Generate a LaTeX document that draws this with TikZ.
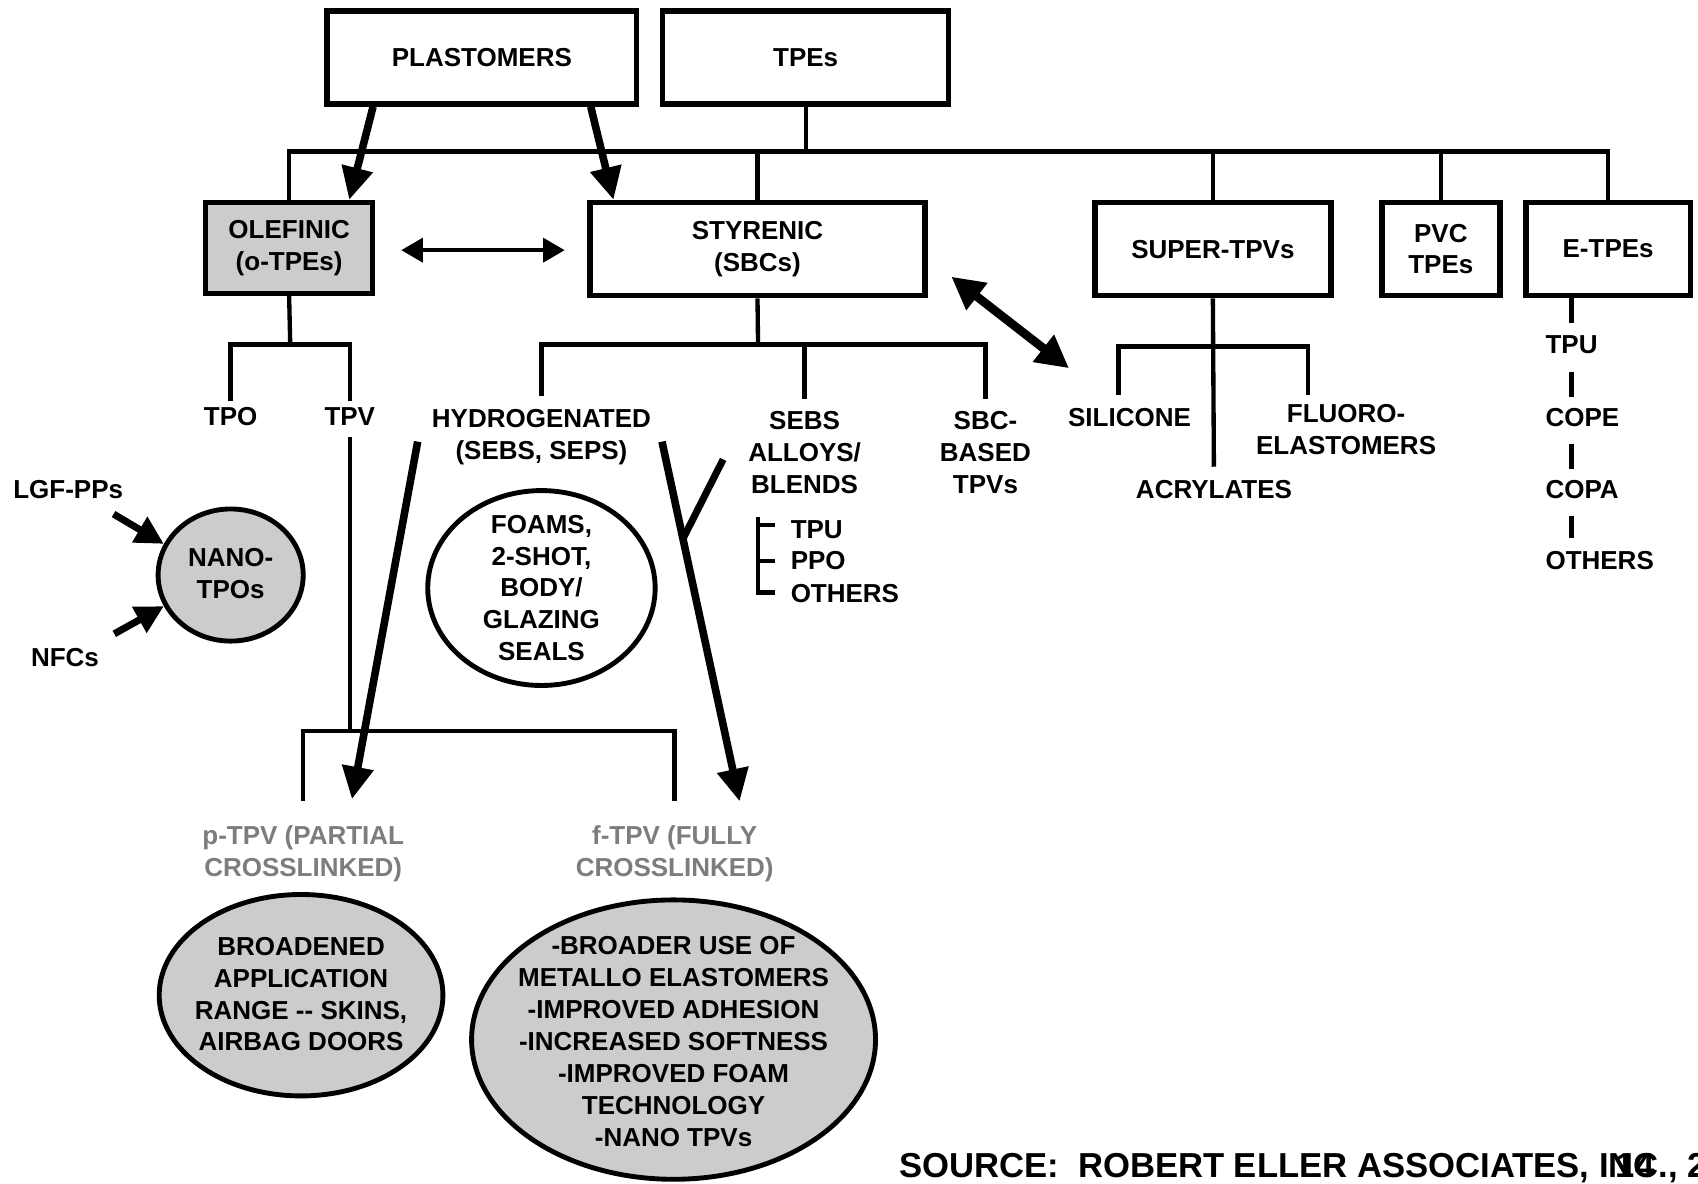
\documentclass[tikz,border=0pt]{standalone}
\usepackage{fontspec}
\setmainfont{Liberation Sans}
\usetikzlibrary{arrows.meta,shapes.geometric,calc}
\definecolor{fillg}{RGB}{204,204,204}
\definecolor{txtg}{RGB}{125,125,125}
\newcommand{\fs}{\bfseries\fontsize{24}{29.5}\selectfont}
\begin{document}
\begin{tikzpicture}[x=1pt,y=-1pt,
  box/.style={draw,line width=5pt,font=\fs,align=center,inner sep=0pt},
  lab/.style={font=\fs,align=center,inner sep=6pt},
  conn/.style={line width=4pt},
  bigarr/.style={line width=7pt,-{Triangle[length=30pt,width=28pt]}},
  medarr/.style={line width=6.5pt,-{Triangle[length=26pt,width=26pt]}},
  oval/.style={ellipse,draw,line width=4.5pt,inner sep=0pt}]
\useasboundingbox (0,0) rectangle (1568,1093);
% top boxes
\node[box,minimum width=286pt,minimum height=86pt] (plast) at (445,53) {PLASTOMERS};
\node[box,minimum width=264pt,minimum height=86pt] (tpes) at (744,53) {TPEs};
% second row
\node[box,fill=fillg,minimum width=154pt,minimum height=84pt] (olef) at (267,229) {OLEFINIC\\(o-TPEs)};
\node[box,minimum width=309pt,minimum height=86pt] (sty) at (699.5,230) {STYRENIC\\(SBCs)};
\node[box,minimum width=218pt,minimum height=86pt] (super) at (1120,230) {SUPER-TPVs};
\node[box,minimum width=109pt,minimum height=86pt] (pvc) at (1330.5,230) {PVC\\TPEs};
\node[box,minimum width=152pt,minimum height=86pt] (etpe) at (1485,230) {E-TPEs};
% bus
\coordinate (bus) at (744,140);
\draw[conn] (tpes.south) -- (bus);
\draw[conn] (olef.north) |- (bus) -| (etpe.north);
\draw[conn] (sty.north) -- (sty.north |- bus);
\draw[conn] (super.north) -- (super.north |- bus);
\draw[conn] (pvc.north) -- (pvc.north |- bus);
% plastomer arrows
\draw[bigarr] ($(plast.south west)+(45,0)$) -- ($(olef.north east)+(-24,0)$);
\draw[bigarr] ($(plast.south east)+(-45,0)$) -- ($(sty.north west)+(24,0)$);
% olef <-> sty
\draw[line width=4pt,{Triangle[length=20pt,width=22pt]}-{Triangle[length=20pt,width=22pt]}]
  ($(olef.east)+(24,2)$) -- ($(sty.west)+(-21,1)$);
% olefinic subtree
\node[lab,anchor=north] (tpo) at (213,370) {TPO};
\node[lab,anchor=north] (tpv) at (323,370) {TPV};
\coordinate (oj) at (268,318);
\draw[conn] (olef.south) -- (oj);
\draw[conn] (tpo.north) |- (oj) -| (tpv.north);
% styrenic subtree
\node[lab,anchor=north] (hyd) at (500,372) {HYDROGENATED\\(SEBS, SEPS)};
\node[lab,anchor=north] (sebs) at (743,374) {SEBS\\ALLOYS/\\BLENDS};
\node[lab,anchor=north] (sbc) at (910,374) {SBC-\\BASED\\TPVs};
\coordinate (sj) at (700,318);
\draw[conn] (sty.south) -- (sj);
\draw[conn,shorten <=6pt,shorten >=6pt] (hyd.north) |- (sj) -| (sbc.north);
\draw[conn,shorten <=6pt] (sebs.north) -- (sebs.north |- sj);
% sebs alloy list
\node[lab,anchor=west,inner xsep=14pt,inner ysep=3pt] (stpu) at (716,489) {TPU};
\node[lab,anchor=west,inner xsep=14pt,inner ysep=3pt] (sppo) at (716,518) {PPO};
\node[lab,anchor=west,inner xsep=14pt,inner ysep=3pt] (soth) at (716,548) {OTHERS};
\coordinate (brk) at (700,477);
\draw[conn] (brk) |- ($(soth.west)+(0,-1)$);
\draw[conn] ($(stpu.west)+(0,-4)$) -- ($(stpu.west -| brk)+(0,-4)$);
\draw[conn] (sppo.west) -- (sppo.west -| brk);
% super subtree
\node[lab,anchor=north] (silicone) at (1043,371) {SILICONE};
\node[lab,anchor=north] (fluoro) at (1243,367) {FLUORO-\\ELASTOMERS};
\node[lab,anchor=north] (acryl) at (1121,437) {ACRYLATES};
\coordinate (uj) at (1120,320);
\coordinate (silT) at (1033,365);
\coordinate (fluT) at (1208,365);
\draw[conn,shorten >=6pt] (super.south) -- (acryl.north);
\draw[conn] (silT) |- (uj) -| (fluT);
% sty <-> silicone
\draw[line width=8pt,{Triangle[length=30pt,width=30pt]}-{Triangle[length=30pt,width=30pt]}]
  ($(sty.south east)+(22,-20)$) -- ($(silicone.north west)+(7,-31)$);
% E-TPE list
\node[lab,anchor=north west,inner sep=4pt] (etpu) at (1423,306) {TPU};
\node[lab,anchor=north west,inner sep=4pt] (ecope) at (1423,373) {COPE};
\node[lab,anchor=north west,inner sep=4pt] (ecopa) at (1423,439) {COPA};
\node[lab,anchor=north west,inner sep=4pt] (eoth) at (1423,505) {OTHERS};
\draw[conn,shorten >=8pt] (etpe.south -| etpu.north) -- (etpu.north);
\draw[conn,shorten <=12pt,shorten >=6pt] (etpu.south) -- (etpu.south |- ecope.north);
\draw[conn,shorten <=12pt,shorten >=6pt] (etpu.south |- ecope.south) -- (etpu.south |- ecopa.north);
\draw[conn,shorten <=12pt,shorten >=8pt] (etpu.south |- ecopa.south) -- (etpu.south |- eoth.north);
% nano tpos
\node[oval,fill=fillg,minimum width=134pt,minimum height=122pt] (nano) at (213,531) {};
\node[lab] (nanot) at (213,530) {NANO-\\TPOs};
\node[lab] (lgf) at (63,452) {LGF-PPs};
\node[lab] (nfc) at (60,607) {NFCs};
\draw[medarr] ($(lgf.south east)+(-15,8)$) -- (nano.155);
\draw[medarr] ($(nfc.north east)+(8,-7)$) -- (nano.205);
% foams
\node[oval,fill=white,minimum width=210pt,minimum height=180pt] (foam) at (500,543) {};
\node[lab] (foamt) at (500,543) {FOAMS,\\2-SHOT,\\BODY/\\GLAZING\\SEALS};
% TPV line and bracket
\node[lab,anchor=north,text=txtg] (ptpv) at (280,756) {p-TPV (PARTIAL\\CROSSLINKED)};
\node[lab,anchor=north,text=txtg] (ftpv) at (623,756) {f-TPV (FULLY\\CROSSLINKED)};
\coordinate (pj) at (323,675);
\draw[conn,shorten <=5pt] (tpv.south) -- (pj);
\draw[conn,shorten <=16pt,shorten >=16pt] (ptpv.north) |- (pj) -| (ftpv.north);
% hydrogenated arrows
\coordinate (hl) at ($(hyd.west)+(-7,4)$);
\coordinate (hr) at ($(hyd.east)+(4,4)$);
\coordinate (hle) at ($(tpv.south |- ptpv.north)+(2,-18)$);
\coordinate (hre) at ($(ftpv.north)+(60,-16)$);
\draw[bigarr] (hl) -- (hle);
\draw[bigarr] (hr) -- (hre);
\coordinate (hm) at ($(hr)!0.27!(hre)$);
\draw[line width=6.5pt] ($(sebs.west)+(-17,6)$) -- (hm);
% bottom ellipses
\node[oval,fill=fillg,minimum width=262pt,minimum height=186pt] (brd) at (278,919) {};
\node[lab] (brdt) at (278,918) {BROADENED\\APPLICATION\\RANGE -{}- SKINS,\\AIRBAG DOORS};
\node[oval,fill=fillg,minimum width=373pt,minimum height=258pt] (fell) at (622,960) {};
\node[lab] (fellt) at (622,962) {-BROADER USE OF\\METALLO ELASTOMERS\\-IMPROVED ADHESION\\-INCREASED SOFTNESS\\-IMPROVED FOAM\\TECHNOLOGY\\-NANO TPVs};
% source
\node[anchor=base west,inner sep=0pt,font=\bfseries\fontsize{32}{36}\selectfont] (src) at (830,1087) {SOURCE:\ \ ROBERT ELLER ASSOCIATES, INC., 2};
\node[anchor=base west,inner sep=0pt,font=\bfseries\fontsize{32}{36}\selectfont] (pg) at (1492,1087) {14};
\end{tikzpicture}
\end{document}
